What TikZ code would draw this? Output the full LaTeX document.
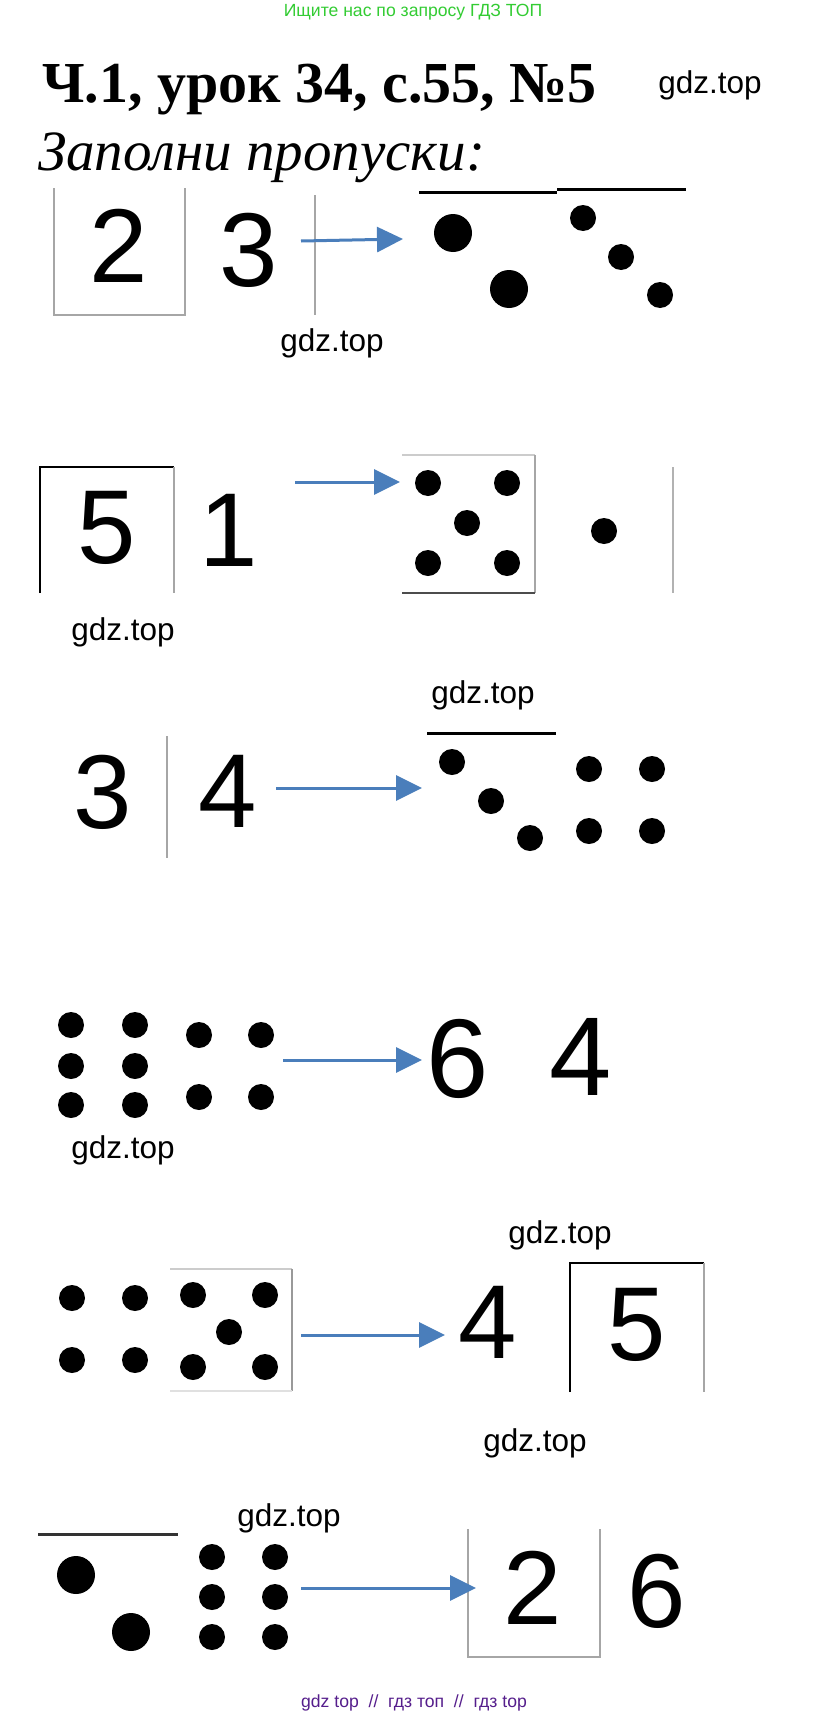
\documentclass[tikz,border=0pt]{standalone}
\usepackage{fontspec}
\setmainfont{Liberation Serif}
\newfontfamily\arialfont{Liberation Sans}
\usetikzlibrary{arrows.meta}
\definecolor{arrowblue}{RGB}{74,126,187}
\definecolor{wmgreen}{RGB}{51,204,51}
\definecolor{wmpurple}{RGB}{85,30,140}
\tikzstyle{dot}=[circle, fill=black, inner sep=0pt, minimum size=26pt]
\tikzstyle{bigdot}=[dot, minimum size=38pt]
\tikzstyle{numeral}=[inner sep=0pt, font=\arialfont\fontsize{105}{105}\selectfont]
\tikzstyle{wmtext}=[inner sep=0pt, font=\arialfont\fontsize{31.5}{31.5}\selectfont]
\tikzstyle{hint}=[-{Triangle[length=26pt,width=25pt]}, draw=arrowblue, fill=arrowblue, line width=3pt]
\tikzstyle{cell}=[draw=black!35, line width=1.5pt]
\tikzstyle{edgebold}=[draw=black, line width=2.5pt]
\tikzstyle{bar}=[draw=black, line width=3pt]
\newcommand{\dotnode}{\node[dot]}
\newcommand{\numnode}{\node[numeral]}
\newcommand{\wmnode}{\node[wmtext]}

\begin{document}
\begin{tikzpicture}[x=1pt, y=-1pt]
\useasboundingbox[fill=white] (0,0) rectangle (828,1718);
\node[inner sep=0pt, text=wmgreen, font=\arialfont\fontsize{17.6}{17.6}\selectfont] (top) at (413,12) {Ищите нас по запросу ГДЗ ТОП};
\node[inner sep=0pt, anchor=base west, font=\bfseries\fontsize{58}{58}\selectfont] (title) at (42,103) {Ч.1, урок 34, с.55, №5};
\node[inner sep=0pt, anchor=base west, font=\itshape\fontsize{57}{57}\selectfont] (task) at (38,170) {Заполни пропуски:};
\wmnode (w0) at (710,85) {gdz.top};

% 2 3 -> two and three
\draw[cell] (54,188) -- (54,315) -- (185,315) -- (185,188);
\draw[cell] (315,195) -- (315,315);
\numnode (a1) at (119,246) {2};
\numnode (a2) at (249,250) {3};
\coordinate (a3) at (301,241);
\coordinate (a4) at (403,239);
\draw[bar] (419,192) -- (557,192);
\draw[bar] (557,189) -- (686,189);
\node[bigdot] (a5) at (453,233) {};
\node[bigdot] (a6) at (509,289) {};
\dotnode (a7) at (583,218) {};
\dotnode (a8) at (621,257) {};
\dotnode (a9) at (660,295) {};
\wmnode (w1) at (332,343) {gdz.top};
\draw[hint] (a3) -- (a4);

% 5 1 -> five and one
\draw[edgebold] (40,593) -- (40,467) -- (174,467);
\draw[cell] (174,467) -- (174,593);
\numnode (b1) at (107,528) {5};
\numnode (b2) at (229,530) {1};
\coordinate (b3) at (295,482);
\coordinate (b4) at (400,482);
\draw[draw=black!20, line width=2.5pt] (402,455) -- (535,455);
\draw[draw=black!35, line width=2.5pt] (535,455) -- (535,593);
\draw[draw=black!70, line width=2.5pt] (402,593) -- (535,593);
\dotnode (b5) at (428,483) {};
\dotnode (b6) at (507,483) {};
\dotnode (b7) at (467,523) {};
\dotnode (b8) at (428,563) {};
\dotnode (b9) at (507,563) {};
\dotnode (b10) at (604,531) {};
\draw[draw=black!30, line width=2.5pt] (673,467) -- (673,593);
\wmnode (w2) at (123,632) {gdz.top};
\draw[hint] (b3) -- (b4);

% 3 4 -> three and four
\wmnode (w3) at (483,695) {gdz.top};
\draw[bar] (427,733) -- (556,733);
\numnode (c1) at (103,792) {3};
\draw[cell] (167,736) -- (167,858);
\numnode (c2) at (228,791) {4};
\coordinate (c3) at (276,788);
\coordinate (c4) at (422,788);
\dotnode (c5) at (452,762) {};
\dotnode (c6) at (491,801) {};
\dotnode (c7) at (530,838) {};
\dotnode (c8) at (589,769) {};
\dotnode (c9) at (652,769) {};
\dotnode (c10) at (589,831) {};
\dotnode (c11) at (652,831) {};
\draw[hint] (c3) -- (c4);

% six and four -> 6 4
\dotnode (d1) at (71,1025) {};
\dotnode (d2) at (135,1025) {};
\dotnode (d3) at (71,1066) {};
\dotnode (d4) at (135,1066) {};
\dotnode (d5) at (71,1105) {};
\dotnode (d6) at (135,1105) {};
\dotnode (d7) at (199,1035) {};
\dotnode (d8) at (261,1035) {};
\dotnode (d9) at (199,1097) {};
\dotnode (d10) at (261,1097) {};
\coordinate (d11) at (283,1060);
\coordinate (d12) at (422,1060);
\node[numeral, font=\arialfont\fontsize{112}{112}\selectfont] (d13) at (458,1059) {6};
\node[numeral, font=\arialfont\fontsize{112}{112}\selectfont] (d14) at (581,1057) {4};
\wmnode (w4) at (123,1150) {gdz.top};
\draw[hint] (d11) -- (d12);

% four and five -> 4 5
\wmnode (w5) at (560,1235) {gdz.top};
\dotnode (e1) at (72,1298) {};
\dotnode (e2) at (135,1298) {};
\dotnode (e3) at (72,1360) {};
\dotnode (e4) at (135,1360) {};
\draw[draw=black!20, line width=2pt] (170,1269) -- (292,1269);
\draw[draw=black!40, line width=2pt] (292,1269) -- (292,1391);
\draw[draw=black!12, line width=1.5pt] (170,1391) -- (292,1391);
\dotnode (e5) at (193,1295) {};
\dotnode (e6) at (265,1295) {};
\dotnode (e7) at (229,1332) {};
\dotnode (e8) at (193,1367) {};
\dotnode (e9) at (265,1367) {};
\coordinate (e10) at (301,1335);
\coordinate (e11) at (445,1335);
\numnode (e12) at (488,1322) {4};
\draw[edgebold] (570,1392) -- (570,1263) -- (704,1263);
\draw[cell] (704,1263) -- (704,1392);
\numnode (e13) at (637,1325) {5};
\draw[hint] (e10) -- (e11);

% two and six -> 2 6
\wmnode (w6) at (535,1443) {gdz.top};
\wmnode (w7) at (289,1518) {gdz.top};
\draw[draw=black!80, line width=3pt] (38,1534) -- (178,1534);
\node[bigdot] (f1) at (76,1575) {};
\node[bigdot] (f2) at (131,1632) {};
\dotnode (f3) at (212,1557) {};
\dotnode (f4) at (275,1557) {};
\dotnode (f5) at (212,1597) {};
\dotnode (f6) at (275,1597) {};
\dotnode (f7) at (212,1637) {};
\dotnode (f8) at (275,1637) {};
\coordinate (f9) at (301,1588);
\coordinate (f10) at (476,1588);
\draw[cell] (468,1529) -- (468,1657) -- (600,1657) -- (600,1529);
\numnode (f11) at (533,1588) {2};
\numnode (f12) at (657,1591) {6};
\draw[hint] (f9) -- (f10);

\node[inner sep=0pt, text=wmpurple, font=\arialfont\fontsize{17.6}{17.6}\selectfont] (foot) at (414,1703) {gdz top \ // \ гдз топ \ // \ гдз top};
\end{tikzpicture}
\end{document}
